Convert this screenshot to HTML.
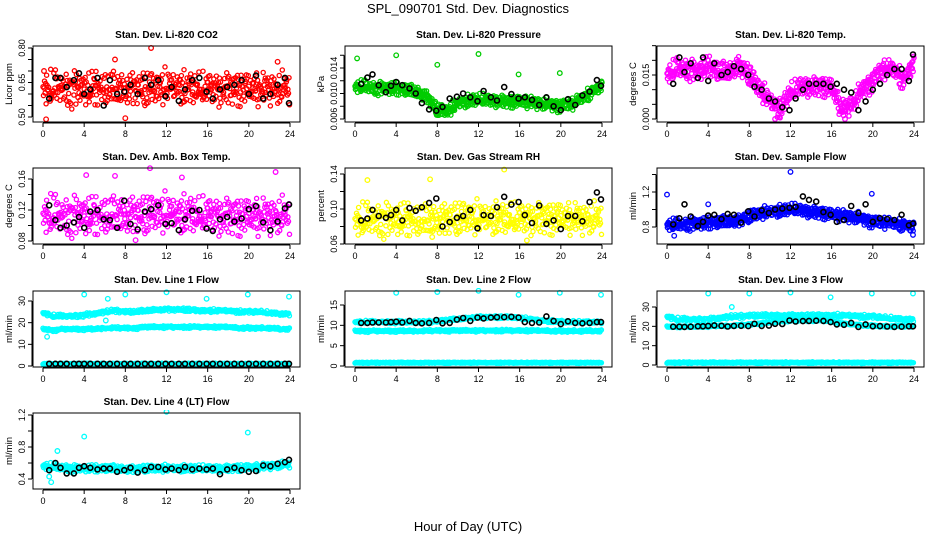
<!DOCTYPE html>
<html><head><meta charset="utf-8"><title>SPL_090701 Std. Dev. Diagnostics</title>
<style>
html,body{margin:0;padding:0;background:#fff;}
svg{display:block;font-family:"Liberation Sans",Arial,sans-serif;}
</style></head>
<body>
<svg id="chart" width="936" height="540" viewBox="0 0 936 540" xmlns="http://www.w3.org/2000/svg">
<text x="468" y="13" text-anchor="middle" font-size="13">SPL_090701  Std. Dev. Diagnostics</text>
<text x="468" y="531" text-anchor="middle" font-size="13">Hour of Day (UTC)</text>
</svg>
<script>
// ---- shared data ----
const xTicks = [0,4,8,12,16,20,24];
const blackHours = [0.6,1.2,1.7,2.3,3,3.5,4,4.6,5.3,5.9,6.5,7.2,7.9,8.5,9.2,9.9,10.5,11.2,11.9,12.5,13.2,13.8,14.5,15.2,15.9,16.5,17.2,17.9,18.6,19.3,20,20.7,21.4,22.1,22.8,23.5,23.9];
const jitter = [0.31,-0.72,0.05,0.88,-0.41,0.17,-0.93,0.62,-0.08,0.44,-0.55,0.79,-0.27,0.12,-0.66,0.95,-0.35,0.23,-0.81,0.51,-0.14,0.69,-0.49,0.02,0.86,-0.61,0.37,-0.19,0.74,-0.87,0.28,-0.03,0.57,-0.77,0.09,0.46,-0.38,0.99,-0.22,0.64,-0.58,0.15,-0.96,0.41,-0.11,0.83,-0.45,0.21,-0.69,0.53];
const jitter2 = [-0.12,0.47,-0.83,0.26,0.65,-0.39,0.08,-0.71,0.91,-0.24,0.36,-0.57,0.14,0.78,-0.95,0.42,-0.06,0.59,-0.33,0.19,-0.88,0.71,-0.46,0.03,0.53,-0.17,0.84,-0.64,0.29,-0.01,0.67,-0.52,0.11,-0.79,0.38,0.96,-0.28];

// ---- per-panel data ----
const co2Center = [0.62,0.62,0.62,0.62,0.62,0.62,0.62,0.62,0.62,0.62,0.62,0.62,0.63,0.63,0.62,0.62,0.62,0.62,0.62,0.62,0.62,0.62,0.62,0.62,0.62];
const co2Black = [0.58,0.67,0.67,0.63,0.66,0.69,0.60,0.62,0.67,0.55,0.66,0.60,0.61,0.64,0.60,0.67,0.64,0.66,0.59,0.63,0.57,0.62,0.66,0.67,0.61,0.58,0.62,0.63,0.64,0.66,0.60,0.68,0.58,0.60,0.64,0.67,0.56];
const co2Out = [[0.3,0.49],[8.0,0.495],[10.5,0.80],[0.1,0.70],[22.8,0.74],[7.0,0.75]];

const presCenter = [0.0110,0.0110,0.0108,0.0108,0.0107,0.0105,0.0102,0.0094,0.0074,0.0072,0.0084,0.0088,0.0090,0.0089,0.0088,0.0087,0.0087,0.0086,0.0084,0.0082,0.0081,0.0083,0.0092,0.0102,0.0112];
const presBlack = [0.0115,0.0125,0.0130,0.0113,0.0102,0.0112,0.0118,0.0113,0.0108,0.0100,0.0085,0.0075,0.0073,0.0079,0.0092,0.0095,0.0100,0.0094,0.0088,0.0104,0.0094,0.0089,0.0110,0.0099,0.0092,0.0094,0.0090,0.0082,0.0094,0.0080,0.0074,0.0091,0.0082,0.0097,0.0103,0.0121,0.0112];
const presOut = [[0.2,0.0155],[4.0,0.0160],[8.0,0.0145],[12.0,0.0162],[15.9,0.0130],[19.9,0.0132],[23.9,0.0193]];

const tempCenter = [0.015,0.017,0.017,0.016,0.018,0.016,0.016,0.018,0.015,0.010,0.006,0.003,0.009,0.011,0.011,0.011,0.0105,0.003,0.005,0.010,0.013,0.017,0.017,0.013,0.019];
const tempBlack = [0.012,0.021,0.016,0.019,0.014,0.021,0.013,0.019,0.015,0.016,0.018,0.017,0.015,0.011,0.010,0.007,0.006,0.004,0.003,0.007,0.010,0.012,0.012,0.012,0.011,0.012,0.010,0.009,0.003,0.006,0.010,0.012,0.015,0.017,0.017,0.013,0.022];
const tempOut = [[10.5,0.0],[17.3,0.0]];

const ambCenter = [0.112,0.112,0.111,0.112,0.112,0.111,0.111,0.112,0.112,0.113,0.113,0.114,0.115,0.114,0.113,0.112,0.112,0.112,0.111,0.111,0.111,0.111,0.111,0.111,0.111];
const ambBlack = [0.126,0.107,0.097,0.100,0.104,0.111,0.097,0.118,0.120,0.108,0.107,0.097,0.132,0.102,0.095,0.118,0.121,0.126,0.102,0.103,0.094,0.108,0.119,0.120,0.096,0.093,0.108,0.111,0.105,0.109,0.121,0.125,0.104,0.094,0.105,0.122,0.127];
const ambOut = [[4.2,0.165],[7.0,0.164],[10.4,0.174],[9.0,0.081],[22.6,0.169],[13.5,0.162]];

const rhCenter = [0.086,0.086,0.087,0.087,0.088,0.087,0.086,0.086,0.087,0.088,0.089,0.089,0.089,0.089,0.088,0.088,0.088,0.089,0.089,0.089,0.089,0.089,0.088,0.088,0.088];
const rhBlack = [0.087,0.089,0.099,0.092,0.090,0.093,0.099,0.087,0.101,0.098,0.102,0.107,0.112,0.080,0.085,0.090,0.092,0.099,0.078,0.093,0.092,0.102,0.114,0.105,0.108,0.093,0.084,0.104,0.083,0.087,0.077,0.092,0.092,0.086,0.108,0.119,0.111];
const rhOut = [[1.2,0.133],[7.3,0.134],[14.5,0.145],[16.7,0.064],[7.5,0.068]];

const flowCenter = [0.82,0.82,0.83,0.84,0.84,0.85,0.86,0.87,0.92,0.95,0.97,0.98,1.00,0.99,0.97,0.96,0.94,0.93,0.91,0.89,0.86,0.85,0.84,0.82,0.80];
const flowBlack = [0.83,0.90,1.06,0.92,0.81,0.86,0.93,0.94,0.89,0.95,0.94,0.85,0.98,0.92,0.99,0.96,1.00,1.01,1.02,1.03,1.15,1.11,1.09,0.97,0.94,0.86,0.88,1.04,0.96,1.06,0.86,0.90,0.89,0.88,0.94,0.82,0.84];
const flowOut = [[0,1.17],[4.0,1.06],[0.7,0.70],[12.0,1.43],[19.9,1.18],[23.9,0.71]];

const l1TopCenter = [24.5,23,23,23,23.5,24,25,25.5,25,25,25.5,26,26,26,26,25.5,25.5,25.5,25.5,25,25,25,24.5,24,24];
const l1MidCenter = [17,16.5,17,17,17,17,17.5,17.5,17.5,17.5,18,18,18,18,18,18,18,18,18,17.5,17.5,17.5,17.5,17,17];
const l1LowCenter = [1,1,1,1,1,1,1,1,1,1,1,1,1,1,1,1,1,1,1,1,1,1,1,1,1];
const l1Black = [1,1,1,1,1,1,1,1,1,1,1,1,1,1,1,1,1,1,1,1,1,1,1,1,1,1,1,1,1,1,1,1,1,1,1,1,1];
const l1Out = [[4.0,33],[6.3,31],[8.0,33],[12.0,34],[15.9,31],[19.9,33],[23.9,32],[0.4,13.5],[6.1,21]];

const l2TopCenter = [10.8,10.8,10.8,10.8,10.8,10.8,10.8,10.8,11,11.3,11.5,11.8,12,12,12,12,11.8,11.5,11.2,11,10.9,10.8,10.8,10.8,10.8];
const l2MidCenter = [8.6,8.6,8.6,8.6,8.6,8.6,8.6,8.6,8.7,8.7,8.7,8.7,8.7,8.7,8.7,8.7,8.7,8.7,8.7,8.6,8.6,8.6,8.6,8.6,8.6];
const l2LowCenter = [0.8,0.8,0.8,0.8,0.8,0.8,0.8,0.8,0.8,0.8,0.8,0.8,0.8,0.8,0.8,0.8,0.8,0.8,0.8,0.8,0.8,0.8,0.8,0.8,0.8];
const l2Black = [10.6,10.6,10.7,10.7,10.7,10.8,10.9,10.7,11.1,10.6,10.5,10.6,11.3,10.5,10.6,11.4,11.8,11.1,11.9,11.7,11.9,12.0,12.0,12.1,11.9,10.8,10.6,10.7,12.2,11.1,10.3,11.0,10.6,10.5,10.6,10.8,10.8];
const l2Out = [[4.0,18],[8.0,18.2],[12.0,18.5],[15.9,17.5],[19.9,18],[23.9,17.5]];

const l3TopCenter = [25,23.5,23.5,23.5,23.5,24,25,25,25.5,25.5,25.5,25.5,25.5,25.5,25.5,25.5,25.5,25.5,25.5,25,25,24.5,24,23.5,23.5];
const l3MidCenter = [19.8,19.8,19.8,19.8,20,20.2,20.3,20.5,21,21.5,22,22.5,23,23,23,23,22.5,21.5,21,20.5,20.3,20,20,20,20];
const l3LowCenter = [1.2,1.2,1.2,1.2,1.2,1.2,1.2,1.2,1.2,1.2,1.2,1.2,1.2,1.2,1.2,1.2,1.2,1.2,1.2,1.2,1.2,1.2,1.2,1.2,1.2];
const l3Black = [19.8,19.8,19.7,19.8,20,20,20.2,20.5,20.3,19.9,20.2,20.3,20.1,21.3,20.2,20.4,21.3,21.2,23.0,22.5,22.7,22.8,22.9,22.8,22.2,21.0,20.8,21.8,19.7,21.0,20.0,20.1,19.9,19.7,19.8,20.0,20.0];
const l3Out = [[4.0,37],[8.0,37],[12.0,37.5],[15.9,35],[19.9,37],[23.9,37],[6.3,30]];

const l4Center = [0.56,0.55,0.54,0.53,0.53,0.53,0.53,0.53,0.52,0.52,0.53,0.53,0.53,0.53,0.53,0.53,0.53,0.53,0.53,0.54,0.54,0.55,0.56,0.57,0.58];
const l4Black = [0.51,0.60,0.54,0.47,0.47,0.54,0.56,0.54,0.52,0.53,0.53,0.49,0.51,0.54,0.48,0.51,0.55,0.55,0.52,0.53,0.51,0.55,0.52,0.53,0.52,0.53,0.46,0.52,0.54,0.51,0.49,0.50,0.57,0.56,0.59,0.61,0.64];
const l4Out = [[0.8,0.36],[0.6,0.43],[1.4,0.75],[4.0,0.93],[12.0,1.24],[19.9,0.98]];

// ---- panel definitions (layout) ----
const panels = [
 {name:'co2',title:'Stan. Dev. Li-820 CO2',ylab:'Licor ppm',col:0,row:0,color:'#ff0000',v0:0.50,v1:0.80,y0:117,y1:48,ticks:[0.50,0.55,0.60,0.65,0.70,0.75,0.80],labels:[0.50,0.65,0.80],dec:2,
  bands:[{c:co2Center,s:0.075,step:0.05}],black:co2Black,out:co2Out},
 {name:'pressure',title:'Stan. Dev. Li-820 Pressure',ylab:'kPa',col:1,row:0,color:'#00cc00',v0:0.006,v1:0.014,y0:119,y1:68,ticks:[0.006,0.008,0.010,0.012,0.014,0.016,0.018,0.020],labels:[0.006,0.010,0.014],dec:3,
  bands:[{c:presCenter,s:0.0010,step:0.04}],black:presBlack,out:presOut},
 {name:'temp',title:'Stan. Dev. Li-820 Temp.',ylab:'degrees C',col:2,row:0,color:'#ff00ff',v0:0,v1:0.015,y0:119,y1:75,ticks:[0,0.005,0.010,0.015,0.020,0.025],labels:[0,0.015],dec:3,
  bands:[{c:tempCenter,s:0.0035,step:0.04}],black:tempBlack,out:tempOut},
 {name:'amb-box-temp',title:'Stan. Dev. Amb. Box Temp.',ylab:'degrees C',col:0,row:1,color:'#ff00ff',v0:0.08,v1:0.16,y0:241,y1:179,ticks:[0.08,0.10,0.12,0.14,0.16],labels:[0.08,0.12,0.16],dec:2,
  bands:[{c:ambCenter,s:0.025,step:0.05}],black:ambBlack,out:ambOut},
 {name:'gas-stream-rh',title:'Stan. Dev. Gas Stream RH',ylab:'percent',col:1,row:1,color:'#ffff00',v0:0.06,v1:0.14,y0:244,y1:174,ticks:[0.06,0.08,0.10,0.12,0.14],labels:[0.06,0.10,0.14],dec:2,
  bands:[{c:rhCenter,s:0.019,step:0.05}],black:rhBlack,out:rhOut},
 {name:'sample-flow',title:'Stan. Dev. Sample Flow',ylab:'ml/min',col:2,row:1,color:'#0000ff',v0:0.8,v1:1.2,y0:227,y1:192,ticks:[0.8,1.0,1.2,1.4],labels:[0.8,1.2],dec:1,
  bands:[{c:flowCenter,s:0.07,step:0.04}],black:flowBlack,out:flowOut},
 {name:'line1-flow',title:'Stan. Dev. Line 1 Flow',ylab:'ml/min',col:0,row:2,color:'#00ffff',v0:0,v1:30,y0:366,y1:301,ticks:[0,10,20,30],labels:[0,10,20,30],dec:0,
  bands:[{c:l1TopCenter,s:0.8,step:0.07},{c:l1MidCenter,s:0.6,step:0.07},{c:l1LowCenter,s:0.3,step:0.07}],black:l1Black,out:l1Out},
 {name:'line2-flow',title:'Stan. Dev. Line 2 Flow',ylab:'ml/min',col:1,row:2,color:'#00ffff',v0:0,v1:15,y0:366,y1:305,ticks:[0,5,10,15],labels:[0,5,10,15],dec:0,
  bands:[{c:l2TopCenter,s:0.35,step:0.07},{c:l2MidCenter,s:0.3,step:0.07},{c:l2LowCenter,s:0.15,step:0.07}],black:l2Black,out:l2Out},
 {name:'line3-flow',title:'Stan. Dev. Line 3 Flow',ylab:'ml/min',col:2,row:2,color:'#00ffff',v0:0,v1:30,y0:365,y1:307,ticks:[0,10,20,30],labels:[0,10,20,30],dec:0,
  bands:[{c:l3TopCenter,s:1.0,step:0.07},{c:l3MidCenter,s:0.5,step:0.07},{c:l3LowCenter,s:0.4,step:0.07}],black:l3Black,out:l3Out},
 {name:'line4-flow',title:'Stan. Dev. Line 4 (LT) Flow',ylab:'ml/min',col:0,row:3,color:'#00ffff',v0:0.4,v1:1.2,y0:479,y1:415,ticks:[0.4,0.6,0.8,1.0,1.2],labels:[0.4,0.8,1.2],dec:1,
  bands:[{c:l4Center,s:0.045,step:0.05}],black:l4Black,out:l4Out}
];

const NS='http://www.w3.org/2000/svg';
const svg=document.getElementById('chart');
const rowTops=[46,168,291,413];
const boxH=76, colLeft=[33,345,657], boxW=267;
function mk(tag,attrs,parent){const e=document.createElementNS(NS,tag);for(const k in attrs)e.setAttribute(k,attrs[k]);(parent||svg).appendChild(e);return e;}
function interp(arr,h){const i=Math.min(23,Math.floor(h));const f=h-i;return arr[i]*(1-f)+arr[i+1]*f;}

panels.forEach(p=>{
  const g=mk('g',{});
  
  
  const L=colLeft[p.col], T=rowTops[p.row], B=T+boxH;
  const X0=L+10, X1=L+257;
  const xs=h=>X0+(X1-X0)*h/24;
  const ys=v=>p.y0+(p.y1-p.y0)*(v-p.v0)/(p.v1-p.v0);
  const t=mk('text',{x:L+boxW/2,y:T-8,'text-anchor':'middle','font-size':10,'font-weight':'bold'},g);
  t.textContent=p.title;
  
  
  const clip=mk('clipPath',{id:'clip-'+p.name},g);
  mk('rect',{x:L-3,y:T-3,width:boxW+6,height:boxH+6},clip);
  const pts=mk('g',{'clip-path':'url(#clip-'+p.name+')',fill:'none','stroke-width':1.3},g);
  
  
  p.bands.forEach((b,bi)=>{
    let k=bi*11;
    for(let h=0;h<=24;h+=b.step){
      const j=0.7*jitter[k%jitter.length]+0.55*jitter2[(k*3+bi)%jitter2.length];
      const v=interp(b.c,h)+j*b.s;
      const c=mk('circle',{cx:xs(h).toFixed(1),cy:ys(v).toFixed(1),r:2.1,stroke:p.color},pts);
      
      
      k++;
    }
  });
  p.out.forEach(o=>{
    const c=mk('circle',{cx:xs(o[0]).toFixed(1),cy:ys(o[1]).toFixed(1),r:2.3,stroke:p.color},pts);
    
    
  });
  p.black.forEach((v,i)=>{
    const c=mk('circle',{cx:xs(blackHours[i]).toFixed(1),cy:ys(v).toFixed(1),r:2.5,stroke:'#000','stroke-width':1.6},pts);
    
    
  });
  const box=mk('rect',{x:L,y:T,width:boxW,height:boxH,fill:'none',stroke:'#000','stroke-width':1},g);
  
  
  const xa=mk('g',{stroke:'#000','stroke-width':1},g);
  
  
  mk('line',{x1:xs(0),x2:xs(24),y1:B+1,y2:B+1},xa);
  xTicks.forEach(h=>{
    mk('line',{x1:xs(h),x2:xs(h),y1:B+1,y2:B+5},xa);
    const tl=mk('text',{x:xs(h),y:B+15,'text-anchor':'middle','font-size':9,stroke:'none',fill:'#000'},g);
    tl.textContent=h;
    
    
  });
  const ya=mk('g',{stroke:'#000','stroke-width':1},g);
  
  
  const vis=p.ticks.filter(v=>ys(v)>=T-2&&ys(v)<=B+2);
  mk('line',{x1:L-1,x2:L-1,y1:ys(vis[0]),y2:ys(vis[vis.length-1])},ya);
  vis.forEach(v=>mk('line',{x1:L-5,x2:L-1,y1:ys(v),y2:ys(v)},ya));
  p.labels.forEach(v=>{
    const y=ys(v);
    const tl=mk('text',{x:0,y:0,transform:`translate(${L-8},${y}) rotate(-90)`,'text-anchor':'middle','font-size':9,fill:'#000'},g);
    tl.textContent=v.toFixed(p.dec);
    
    
  });
  const yl=mk('text',{x:0,y:0,transform:`translate(${L-21},${T+boxH/2}) rotate(-90)`,'text-anchor':'middle','font-size':9.5,fill:'#000'},g);
  yl.textContent=p.ylab;
  
  
});
</script>
</body></html>
